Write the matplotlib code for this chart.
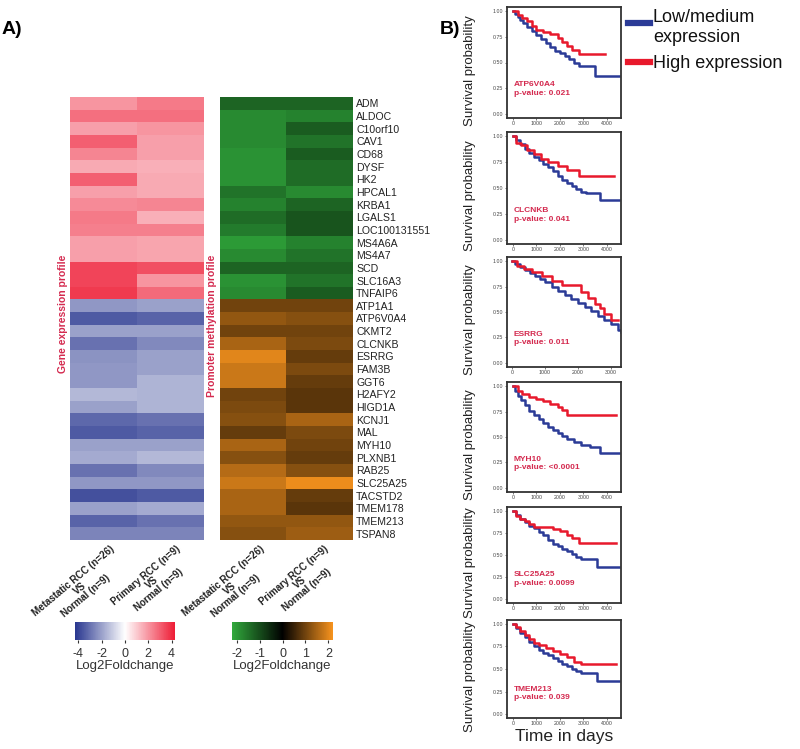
import numpy as np
import matplotlib
matplotlib.use("Agg")
import matplotlib.pyplot as plt
from matplotlib.colors import LinearSegmentedColormap
from matplotlib.lines import Line2D

plt.rcParams["axes.unicode_minus"] = False
plt.rcParams["font.family"] = ["Liberation Sans", "DejaVu Sans"]

# ---- heatmap data (log2 fold change) ----
genes = ["ADM", "ALDOC", "C10orf10", "CAV1", "CD68", "DYSF", "HK2", "HPCAL1",
         "KRBA1", "LGALS1", "LOC100131551", "MS4A6A", "MS4A7", "SCD", "SLC16A3",
         "TNFAIP6", "ATP1A1", "ATP6V0A4", "CKMT2", "CLCNKB", "ESRRG", "FAM3B",
         "GGT6", "H2AFY2", "HIGD1A", "KCNJ1", "MAL", "MYH10", "PLXNB1", "RAB25",
         "SLC25A25", "TACSTD2", "TMEM178", "TMEM213", "TSPAN8"]
comparisons = ["Metastatic RCC (n=26)\nVS\nNormal (n=9)",
               "Primary RCC (n=9)\nVS\nNormal (n=9)"]

expr_met = [2.0, 2.7, 1.8, 3.0, 2.3, 1.6, 3.0, 1.8, 2.2, 2.5, 2.4, 1.8, 1.8, 3.5, 3.5, 3.7,
            -2.2, -3.5, -2.0, -3.0, -2.3, -2.2, -2.2, -1.5, -2.0, -3.2, -3.5, -2.0, -1.8,
            -3.0, -2.2, -3.7, -2.0, -3.3, -2.6]
expr_prim = [2.5, 2.7, 2.0, 1.8, 1.8, 1.5, 1.6, 1.6, 2.3, 1.5, 2.4, 1.7, 1.7, 3.3, 2.0, 2.8,
             -2.0, -3.3, -2.0, -2.5, -2.0, -2.0, -1.6, -1.6, -1.6, -3.0, -3.3, -2.0, -1.5,
             -2.5, -2.2, -3.5, -1.8, -3.0, -2.6]
meth_met = [-1.3, -1.8, -1.8, -1.8, -1.9, -1.9, -1.9, -1.5, -1.7, -1.4, -1.6, -2.0, -1.8,
            -1.3, -1.9, -1.8,
            1.0, 1.3, 1.0, 1.5, 2.0, 1.8, 1.8, 1.0, 1.1, 1.2, 0.9, 1.5, 1.2, 1.6, 1.8,
            1.5, 1.5, 1.3, 1.2]
meth_prim = [-1.3, -1.7, -1.2, -1.5, -1.2, -1.4, -1.4, -1.8, -1.3, -1.1, -1.1, -1.7, -1.5,
             -1.3, -1.5, -1.2,
             1.0, 1.2, 1.0, 1.1, 0.9, 1.1, 0.9, 0.8, 0.8, 1.5, 1.1, 1.0, 0.9, 1.2, 2.1,
             0.9, 0.8, 1.3, 1.4]

# ---- survival curves (step points) ----
surv_genes = ["ATP6V0A4", "CLCNKB", "ESRRG", "MYH10", "SLC25A25", "TMEM213"]
pvalues = ["0.021", "0.041", "0.011", "<0.0001", "0.0099", "0.039"]

low_t = [
    [0, 100, 200, 300, 450, 600, 800, 1000, 1200, 1400, 1600, 1800, 2000, 2200, 2400, 2600, 2800, 3500, 4500],
    [0, 150, 300, 500, 700, 900, 1100, 1300, 1500, 1700, 1900, 2100, 2300, 2500, 2700, 2900, 3100, 3700, 4500],
    [0, 100, 250, 400, 550, 700, 850, 1000, 1200, 1400, 1600, 1800, 2000, 2200, 2400, 2600, 2800, 3000, 3200, 3300],
    [0, 100, 200, 350, 500, 700, 900, 1100, 1300, 1500, 1700, 1900, 2100, 2300, 2600, 2900, 3300, 3700, 4500],
    [0, 150, 300, 500, 700, 900, 1100, 1300, 1500, 1700, 1900, 2100, 2300, 2500, 2700, 2900, 3600, 4500],
    [0, 150, 300, 500, 700, 900, 1100, 1300, 1500, 1700, 1900, 2100, 2300, 2500, 2700, 2900, 3600, 4500],
]
low_s = [
    [1.0, 0.97, 0.94, 0.91, 0.88, 0.85, 0.81, 0.77, 0.73, 0.69, 0.65, 0.61, 0.59, 0.56, 0.53, 0.50, 0.47, 0.37, 0.37],
    [1.0, 0.96, 0.92, 0.88, 0.84, 0.80, 0.77, 0.73, 0.70, 0.66, 0.62, 0.58, 0.55, 0.52, 0.49, 0.46, 0.45, 0.38, 0.38],
    [1.0, 0.97, 0.94, 0.91, 0.88, 0.85, 0.82, 0.79, 0.75, 0.71, 0.67, 0.63, 0.59, 0.55, 0.51, 0.46, 0.42, 0.38, 0.32, 0.30],
    [1.0, 0.95, 0.90, 0.86, 0.81, 0.76, 0.72, 0.68, 0.64, 0.60, 0.57, 0.54, 0.51, 0.48, 0.45, 0.42, 0.40, 0.34, 0.34],
    [1.0, 0.95, 0.91, 0.87, 0.83, 0.80, 0.76, 0.72, 0.67, 0.62, 0.60, 0.57, 0.54, 0.51, 0.48, 0.46, 0.37, 0.37],
    [1.0, 0.95, 0.90, 0.85, 0.80, 0.75, 0.71, 0.68, 0.65, 0.62, 0.59, 0.56, 0.53, 0.50, 0.48, 0.46, 0.37, 0.37],
]
high_t = [
    [0, 200, 400, 600, 800, 1000, 1300, 1600, 1900, 2100, 2300, 2500, 2800, 3900],
    [0, 150, 350, 600, 900, 1200, 1500, 1900, 2300, 2800, 4300],
    [0, 150, 350, 600, 900, 1200, 1500, 1800, 2100, 2300, 2500, 2650, 2800, 3000, 3200],
    [0, 200, 400, 700, 1000, 1300, 1600, 1900, 2100, 2300, 4400],
    [0, 150, 300, 500, 700, 900, 1300, 1700, 2000, 2300, 2500, 2800, 4400],
    [0, 150, 300, 500, 700, 900, 1100, 1400, 1700, 2000, 2300, 2600, 2900, 4400],
]
high_s = [
    [1.0, 0.96, 0.93, 0.90, 0.86, 0.82, 0.80, 0.78, 0.74, 0.70, 0.66, 0.62, 0.58, 0.58],
    [1.0, 0.93, 0.91, 0.87, 0.83, 0.78, 0.75, 0.71, 0.67, 0.62, 0.62],
    [1.0, 0.95, 0.92, 0.89, 0.85, 0.80, 0.77, 0.77, 0.70, 0.64, 0.58, 0.54, 0.48, 0.42, 0.42],
    [1.0, 0.95, 0.92, 0.89, 0.87, 0.85, 0.82, 0.79, 0.77, 0.72, 0.72],
    [1.0, 0.94, 0.91, 0.88, 0.85, 0.82, 0.81, 0.79, 0.77, 0.73, 0.69, 0.63, 0.63],
    [1.0, 0.96, 0.92, 0.87, 0.83, 0.79, 0.76, 0.73, 0.70, 0.67, 0.63, 0.58, 0.56, 0.56],
]

W, H = 800, 749
fig = plt.figure(figsize=(W / 100, H / 100), dpi=100)


def px(x, y, w, h):
    # pixel box (left, top, width, height) -> figure fraction
    return [x / W, 1 - (y + h) / H, w / W, h / H]


def fx(x):
    return x / W


def fy(y):
    return 1 - y / H


red_txt = "#d42a4f"
cm_expr = LinearSegmentedColormap.from_list("expr", ["#28368f", "#ffffff", "#ee1c35"])
cm_meth = LinearSegmentedColormap.from_list("meth", ["#31a93c", "#000000", "#f7931e"])

# heatmaps
ax1 = fig.add_axes(px(70, 97, 133, 443))
im1 = ax1.imshow(np.column_stack([expr_met, expr_prim]), cmap=cm_expr, vmin=-4.3, vmax=4.3,
                 aspect="auto", interpolation="nearest")
ax1.set_xticks([])
ax1.set_yticks([])
for s in ax1.spines.values():
    s.set_visible(False)

ax2 = fig.add_axes(px(220, 97, 132, 443))
im2 = ax2.imshow(np.column_stack([meth_met, meth_prim]), cmap=cm_meth, vmin=-2.2, vmax=2.2,
                 aspect="auto", interpolation="nearest")
ax2.set_xticks([])
ax2.yaxis.tick_right()
ax2.set_yticks(range(len(genes)))
ax2.set_yticklabels(genes, fontsize=7.6, color="#222222")
ax2.tick_params(axis="y", length=0, pad=3)
for s in ax2.spines.values():
    s.set_visible(False)

fig.text(fx(63), fy(314), "Gene expression profile", rotation=90, color=red_txt,
         fontsize=7.5, fontweight="bold", ha="center", va="center")
fig.text(fx(212), fy(326), "Promoter methylation profile", rotation=90, color=red_txt,
         fontsize=7.5, fontweight="bold", ha="center", va="center")

# rotated column labels
for cx, lab in zip([110, 176, 260, 324], comparisons * 2):
    fig.text(fx(cx), fy(544), lab, rotation=40, rotation_mode="anchor", ha="right",
             va="top", multialignment="center", fontsize=7, fontweight="bold",
             color="#222222", linespacing=0.95)

# colorbars
cax1 = fig.add_axes(px(75, 622, 100, 18))
cb1 = fig.colorbar(im1, cax=cax1, orientation="horizontal", ticks=[-4, -2, 0, 2, 4])
cb1.outline.set_visible(False)
cax1.tick_params(labelsize=9, length=2, colors="#333333")
cb1.set_label("Log2Foldchange", fontsize=9.5, color="#333333", labelpad=0)

cax2 = fig.add_axes(px(232, 622, 101, 18))
cb2 = fig.colorbar(im2, cax=cax2, orientation="horizontal", ticks=[-2, -1, 0, 1, 2])
cb2.outline.set_visible(False)
cax2.tick_params(labelsize=9, length=2, colors="#333333")
cb2.set_label("Log2Foldchange", fontsize=9.5, color="#333333", labelpad=0)

fig.text(fx(2), fy(30), "A)", fontsize=14, fontweight="bold", va="center")
fig.text(fx(440), fy(30), "B)", fontsize=14, fontweight="bold", va="center")

# survival panels
blue = "#2b3b97"
red = "#e8192c"
boxes = [(507, 7, 114, 111), (507, 132, 114, 112), (507, 257, 114, 110),
         (507, 382, 114, 110), (507, 507, 114, 96), (507, 620, 114, 98)]
for i, (bx, by, bw, bh) in enumerate(boxes):
    ax = fig.add_axes(px(bx, by, bw, bh))
    ax.step(low_t[i], low_s[i], where="post", color=blue, lw=1.8)
    ax.step(high_t[i], high_s[i], where="post", color=red, lw=1.8)
    if i == 2:
        ax.set_xlim(-150, 3300)
        ax.set_xticks([0, 1000, 2000, 3000])
    else:
        ax.set_xlim(-250, 4600)
        ax.set_xticks([0, 1000, 2000, 3000, 4000])
    ax.set_ylim(-0.04, 1.04)
    ax.set_yticks([0, 0.25, 0.5, 0.75, 1.0])
    ax.set_yticklabels(["0.00", "0.25", "0.50", "0.75", "1.00"])
    ax.tick_params(labelsize=3.8, length=1.5, width=0.5, pad=1, colors="#444444")
    for s in ax.spines.values():
        s.set_linewidth(1.3)
        s.set_color("#333333")
    ax.text(0.06, 0.33, surv_genes[i] + "\np-value: " + pvalues[i], transform=ax.transAxes,
            color=red_txt, fontsize=6, fontweight="bold", va="top", linespacing=1.3)
    fig.text(fx(470), fy(by + bh / 2 + 8), "Survival probability", rotation=90,
             fontsize=9.5, color="#222222", ha="center", va="center")

fig.text(fx(564), fy(737), "Time in days", fontsize=12.5, color="#222222",
         ha="center", va="center")

# legend
fig.add_artist(Line2D([fx(628), fx(650)], [fy(23), fy(23)], color=blue, lw=4.5))
fig.add_artist(Line2D([fx(628), fx(650)], [fy(62), fy(62)], color=red, lw=4.5))
fig.text(fx(653), fy(9), "Low/medium\nexpression", fontsize=13, color="#111111",
         ha="left", va="top", linespacing=1.2)
fig.text(fx(653), fy(63), "High expression", fontsize=13, color="#111111",
         ha="left", va="center")

fig.savefig("out.png", dpi=100)
